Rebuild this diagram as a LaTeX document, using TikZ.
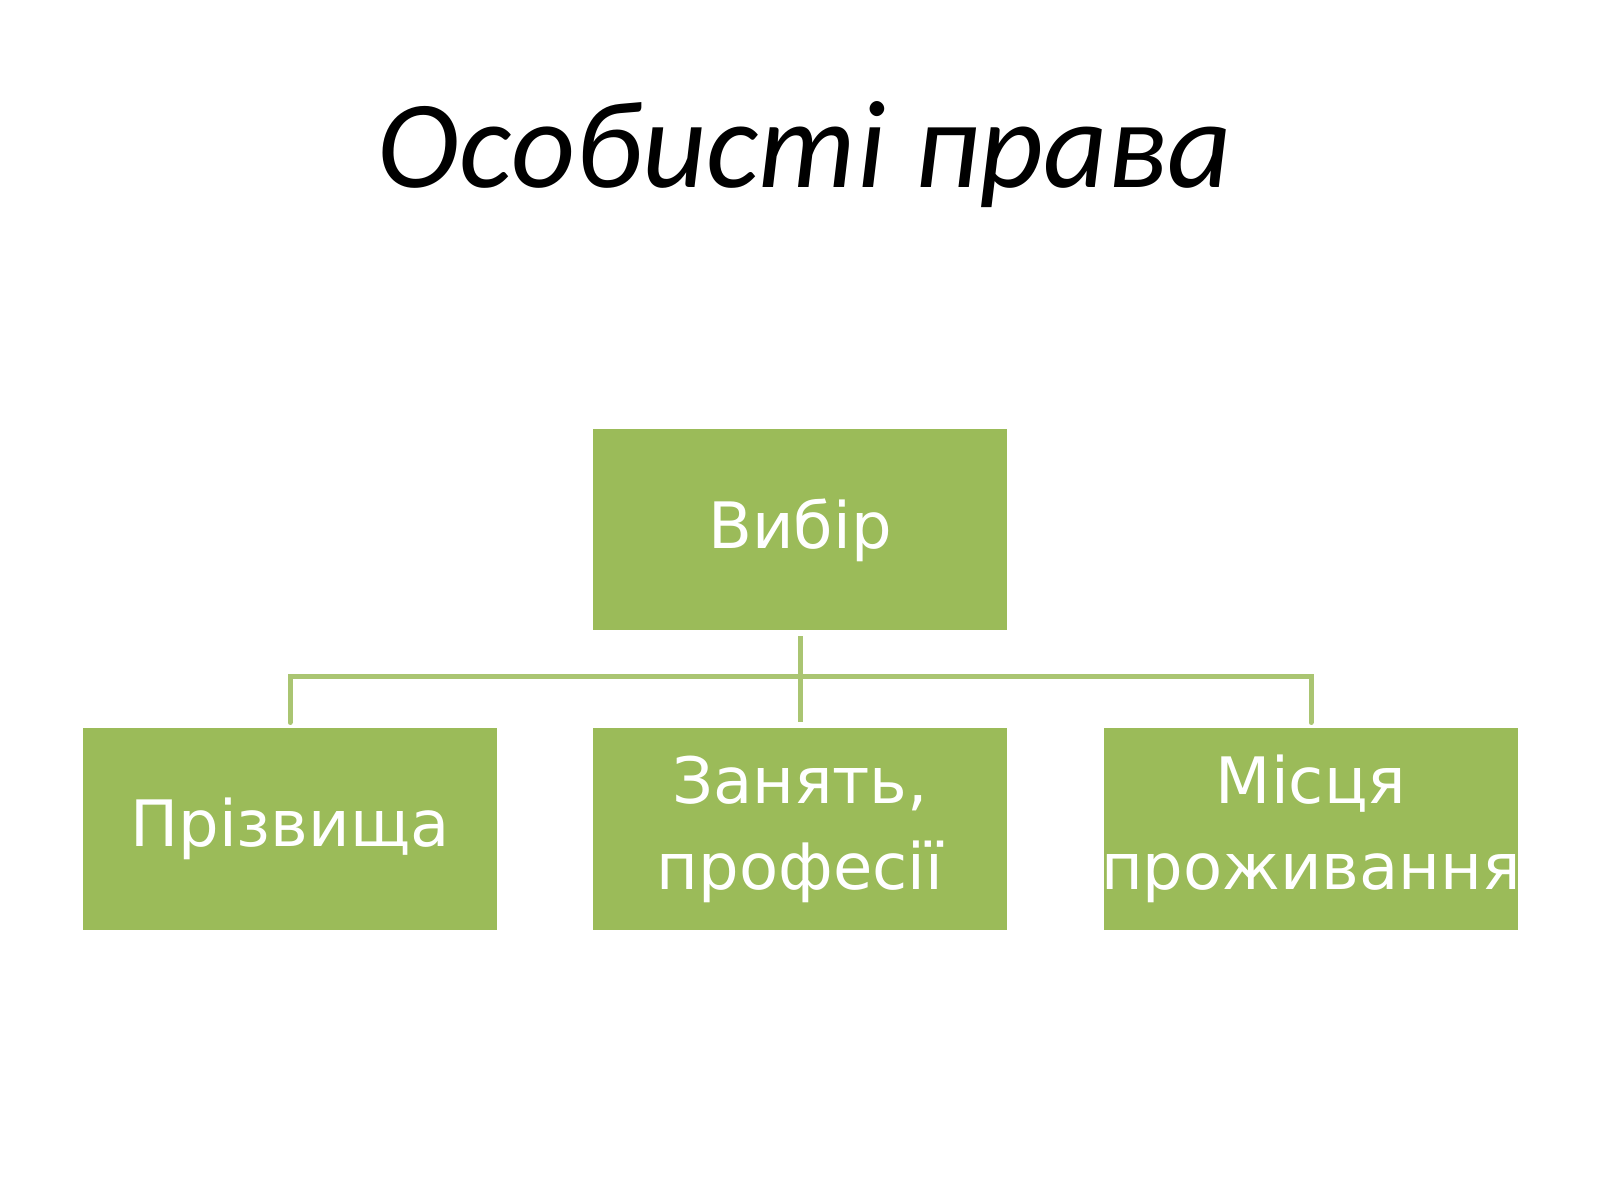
\documentclass[tikz,border=0pt]{standalone}
\usepackage{fontspec}
\setmainfont{DejaVu Sans}
\newfontfamily\titlefont{Carlito}
\usetikzlibrary{shadows}
\definecolor{grn}{HTML}{9BBB59}
\tikzset{x=1pt,y=1pt,
 boxn/.style={draw=white,line width=6pt,fill=grn,minimum width=420pt,minimum height=207pt,inner sep=0pt,
   text=white,align=center,font=\fontsize{64}{86}\selectfont,drop shadow={shadow xshift=2pt,shadow yshift=-3pt,opacity=0.3}},
 conn/.style={draw=grn!85!white,line width=5pt}}
\begin{document}
\begin{tikzpicture}
\useasboundingbox (0,0) rectangle (1600,1200);
\fill[white] (0,0) rectangle (1600,1200);
\node (title) at (805,1045) {\titlefont\itshape\fontsize{125}{130}\selectfont Особисті права};
\node[boxn] (top) at (800,670) {Вибір};
\node[boxn] (l) at (290,371) {Прізвища};
\node[boxn] (m) at (800,371) {Занять,\\професії};
\node[boxn] (r) at (1311,371) {Місця\\проживання};
\coordinate (j) at (800,523);
\draw[conn] (top.south) -- (j);
\draw[conn,line cap=round] (l.north) -- (l.north|-j) -- (r.north|-j) -- (r.north);
\draw[conn] (j) -- (m.north);
\end{tikzpicture}
\end{document}
